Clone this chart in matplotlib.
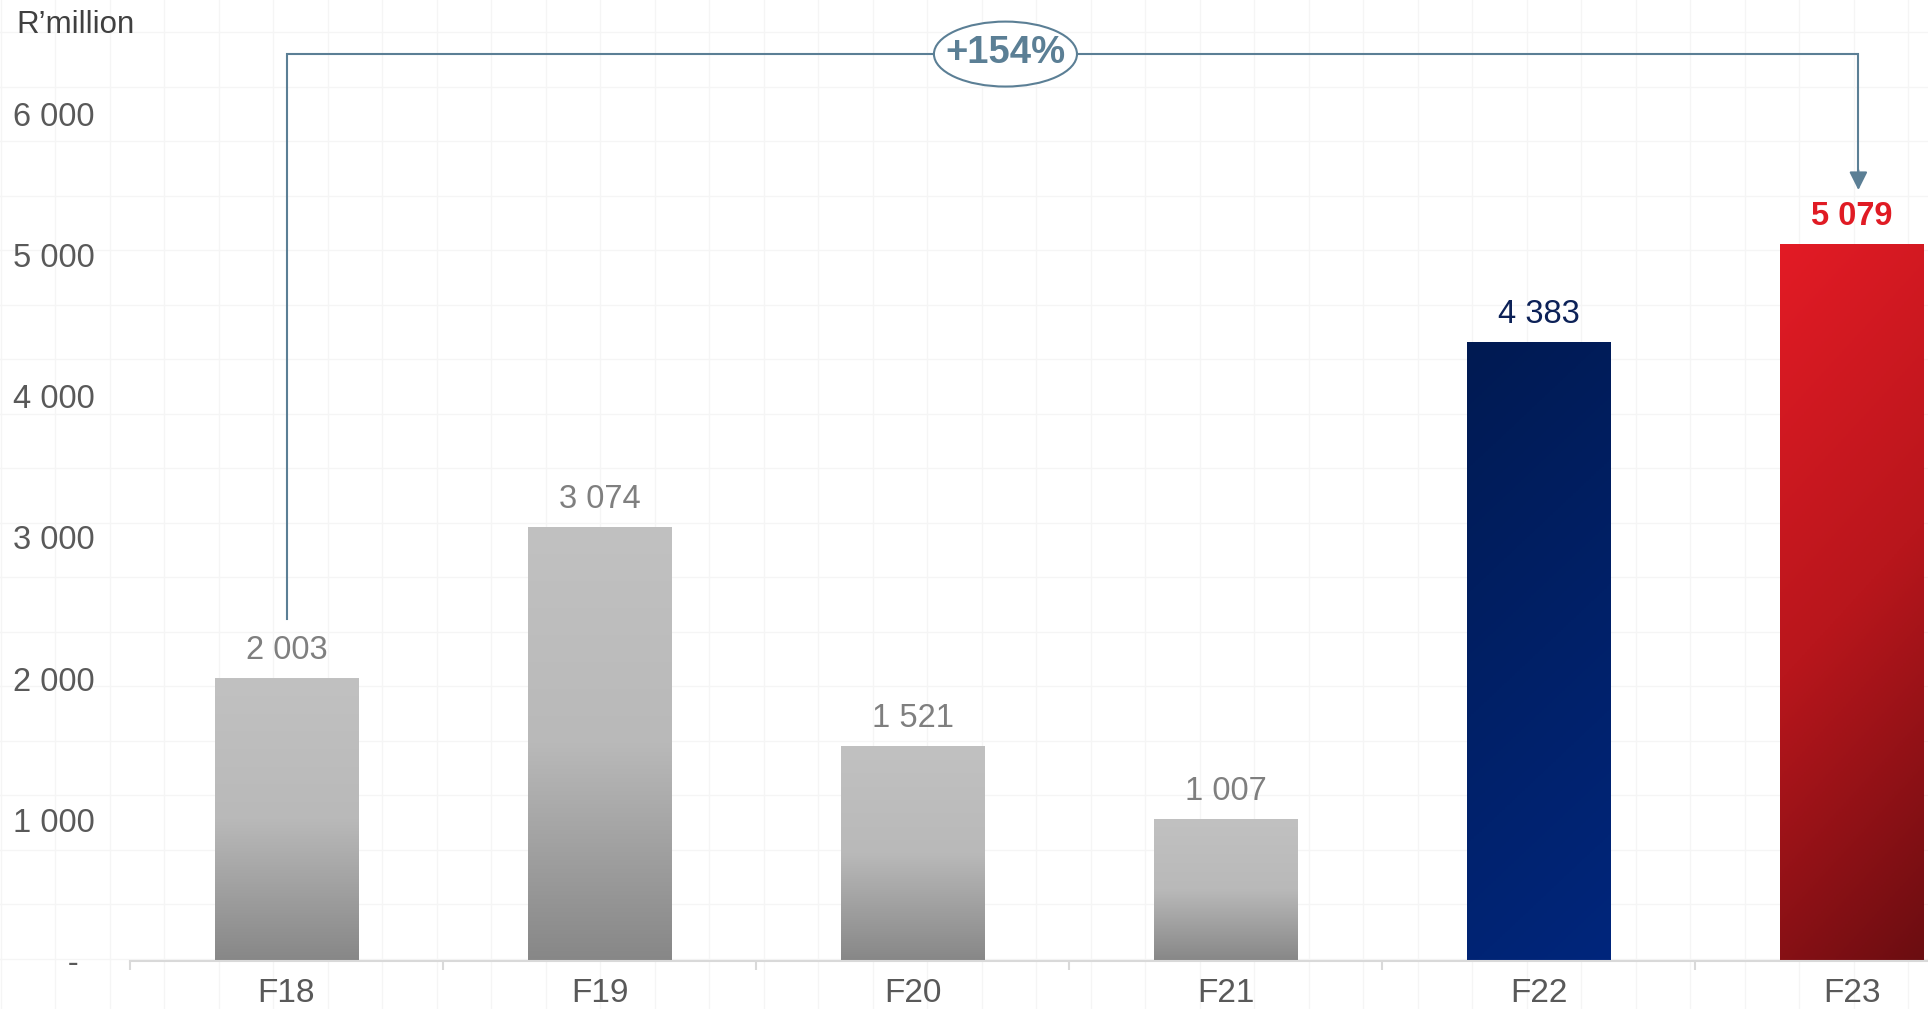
import numpy as np
import matplotlib
matplotlib.use("Agg")
import matplotlib.pyplot as plt
from matplotlib.colors import LinearSegmentedColormap
from matplotlib.patches import Ellipse

# ---- data ----
categories = ["F18", "F19", "F20", "F21", "F22", "F23"]
values = [2003, 3074, 1521, 1007, 4383, 5079]
value_labels = ["2 003", "3 074", "1 521", "1 007", "4 383", "5 079"]
ytick_values = [0, 1000, 2000, 3000, 4000, 5000, 6000]
ytick_labels = ["      -", "1 000", "2 000", "3 000", "4 000", "5 000", "6 000"]
growth_label = "+154%"
unit_label = "R\u2019million"

plt.rcParams['font.family'] = ['Liberation Sans', 'DejaVu Sans']

W, H = 1928, 1009
fig = plt.figure(figsize=(W / 100, H / 100), dpi=100)
fig.patch.set_facecolor("white")

# ---- decorative background grid ----
bg = fig.add_axes([0, 0, 1, 1], zorder=0)
bg.set_xlim(0, W)
bg.set_ylim(H, 0)
bg.axis("off")
step = 54.5
for gx in np.arange(0.5, W, step):
    bg.plot([gx, gx], [0, H], color="#f5f5f5", lw=1.0)
for gy in np.arange(32, H, step):
    bg.plot([0, W], [gy, gy], color="#f5f5f5", lw=1.0)

# ---- main axes ----
left_px, bottom_px = 130, 48
slot_px = 313.0
ax = fig.add_axes([left_px / W, bottom_px / H, (W - left_px) / W, (H - bottom_px) / H], zorder=1)
ax.patch.set_alpha(0)

x = np.arange(len(categories))
bar_w = 0.457
bars = ax.bar(x, values, width=bar_w, color="none", edgecolor="none", zorder=2)

gray_cmap = LinearSegmentedColormap.from_list("g", ["#c1c1c1", "#b9b9b9", "#878787"])
navy_cmap = LinearSegmentedColormap.from_list("n", ["#001a52", "#00267c"])
red_cmap = LinearSegmentedColormap.from_list("r", ["#e31b25", "#b8161c", "#6b0d11"])

n = 256
vv, uu = np.mgrid[0:1:n * 1j, 0:1:n * 1j]
vert = vv
diag = 0.82 * vv + 0.18 * uu

for i, b in enumerate(bars):
    x0 = b.get_x()
    x1 = x0 + b.get_width()
    h = b.get_height()
    if i < 4:
        arr, cm = vert, gray_cmap
    elif i == 4:
        arr, cm = diag, navy_cmap
    else:
        arr, cm = diag, red_cmap
    im = ax.imshow(arr, extent=[x0, x1, 0, h], origin="upper", aspect="auto",
                   cmap=cm, vmin=0, vmax=1, zorder=2, interpolation="bilinear")
    im.set_clip_path(b)

# value labels
label_colors = ["#7f7f7f"] * 4 + ["#0c2157", "#e01b24"]
label_weights = ["normal"] * 5 + ["bold"]
for xi, v, lab, c, wgt in zip(x, values, value_labels, label_colors, label_weights):
    ax.annotate(lab, (xi, v), xytext=(0, 13.7), textcoords="offset points",
                ha="center", va="baseline", fontsize=23.5, color=c, fontweight=wgt, zorder=4)

# axes styling
for s in ["top", "right", "left"]:
    ax.spines[s].set_visible(False)
ax.spines["bottom"].set_color("#d9d9d9")
ax.spines["bottom"].set_linewidth(1.5)
ax.spines["bottom"].set_zorder(3)

ax.set_xticks(x)
ax.set_xticklabels(categories)
ax.set_xticks(np.arange(-0.5, len(categories) + 0.5, 1), minor=True)
ax.tick_params(axis="x", which="major", length=0, pad=12, labelsize=24, labelcolor="#595959")
ax.tick_params(axis="x", which="minor", length=6.5, width=1.5, color="#d9d9d9")

ax.set_yticks(ytick_values)
ax.set_yticklabels(ytick_labels)
ax.tick_params(axis="y", length=0, pad=84, labelsize=23.5, labelcolor="#595959")
for t in ax.get_yticklabels():
    t.set_horizontalalignment("left")

ax.set_xlim(-0.5, -0.5 + (W - left_px) / slot_px)
ax.set_ylim(0, (H - bottom_px) / 0.1412)

# ---- growth bracket ----
line_c = "#5b7f95"
top_level = 6423
start_y = values[0] + 420
end_y = values[-1] + 381
x_end = x[-1] + 0.022
ax.plot([x[0], x[0], x_end, x_end], [start_y, top_level, top_level, end_y + 100],
        color=line_c, lw=1.5, zorder=3, solid_joinstyle="miter", clip_on=False)
ax.annotate("", xy=(x_end, end_y), xytext=(x_end, end_y + 140),
            arrowprops=dict(arrowstyle="-|>,head_length=1.1,head_width=0.55",
                            color=line_c, lw=1.5, shrinkA=0, shrinkB=0), zorder=3)
ell_x = 2.297
ax.add_patch(Ellipse((ell_x, top_level), width=0.457, height=460, facecolor="white",
                     edgecolor=line_c, lw=1.5, zorder=4, clip_on=False))
ax.text(ell_x, top_level + 5, growth_label, ha="center", va="center", fontsize=27.5,
        fontweight="bold", color=line_c, zorder=5)

# unit label
fig.text(16 / W, 1 - 33 / H, unit_label, ha="left", va="baseline", fontsize=22.5, color="#404040")

fig.savefig("out.png", dpi=100)
